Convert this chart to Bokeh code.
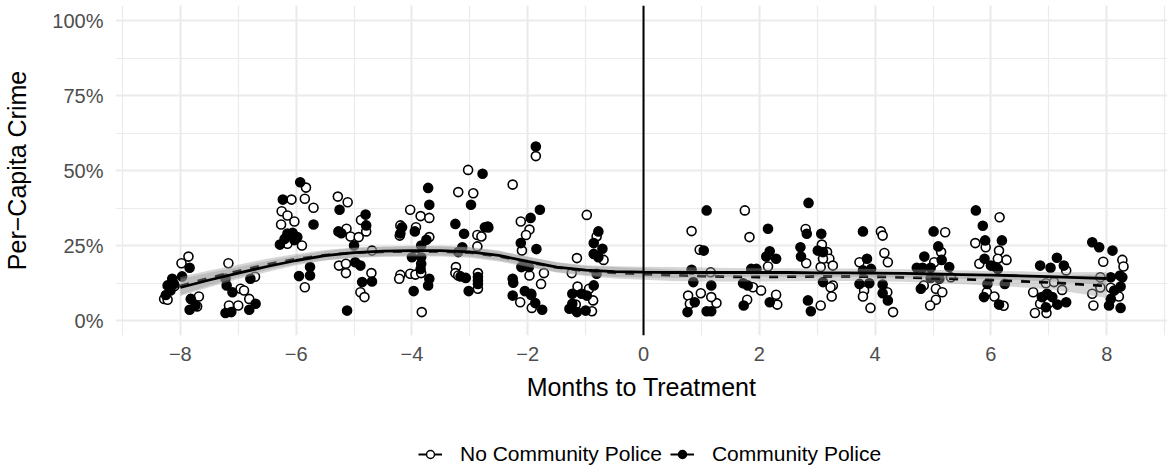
from bokeh.plotting import figure
from bokeh.layouts import column
from bokeh.models import (ColumnDataSource, FixedTicker, Span, Legend, LegendItem, Range1d)
from bokeh.embed import file_html
from bokeh.resources import INLINE

# ---------------- data ----------------
month_ticks = [-8, -6, -4, -2, 0, 2, 4, 6, 8]
month_labels = ["−8", "−6", "−4", "−2", "0", "2", "4", "6", "8"]
month_minor = [-9, -7, -5, -3, -1, 1, 3, 5, 7, 9]
pct_ticks = [0, 0.25, 0.5, 0.75, 1.0]
pct_labels = ["0%", "25%", "50%", "75%", "100%"]
pct_minor = [0.125, 0.375, 0.625, 0.875]

# No Community Police (open circles): jittered month, per-capita crime
nocp_x = [-7.86, -7.98, -8.28, -8.22, -7.68, -7.71, -8.10,
          -7.17, -6.71, -6.96, -6.90, -6.81, -7.00, -7.16,
          -5.83, -5.85, -6.08, -5.70, -6.25, -6.15, -6.26, -6.03, -6.15, -5.90, -5.85,
          -5.28, -5.11, -5.13, -5.06, -4.88, -4.92, -4.79, -4.69, -5.26, -5.14, -5.14, -4.70, -4.89, -4.82,
          -4.03, -3.85, -3.70, -4.20, -4.21, -3.93, -3.70, -4.20, -4.03, -3.94, -3.84, -4.22, -3.83,
          -3.03, -3.20, -2.94, -2.87, -2.80, -2.68, -2.87, -3.24, -3.25, -2.86, -2.86, -2.86, -3.20,
          -1.86, -2.26, -2.12, -1.97, -2.03, -2.10, -1.97, -1.72, -1.77, -1.94, -2.13, -1.93,
          -0.98, -0.81, -0.69, -1.15, -1.24, -1.14, -0.94, -0.87, -1.17, -0.89,
          0.83, 0.97, 1.16, 0.77, 0.99, 1.26, 0.80, 1.17,
          1.75, 1.83, 2.15, 1.89, 2.03, 2.29, 1.79, 2.31,
          2.80, 3.08, 3.17, 3.21, 3.10, 2.81, 3.06, 3.27, 3.27, 3.23, 3.25, 3.06,
          4.10, 4.13, 4.16, 3.73, 4.22, 3.81, 3.79, 4.21, 3.92, 4.31,
          5.21, 5.14, 5.02, 5.31, 4.84, 5.05, 5.16, 5.05, 4.95,
          6.15, 5.73, 5.91, 6.14, 6.12, 6.27, 5.80, 5.93, 6.06, 6.22,
          7.30, 6.95, 7.09, 7.23, 6.73, 6.85, 7.00, 6.76, 6.96,
          7.94, 8.27, 8.29, 7.89, 8.07, 8.21, 7.75, 7.77, 7.89]
nocp_y = [0.213, 0.191, 0.072, 0.069, 0.080, 0.047, 0.115,
          0.191, 0.146, 0.106, 0.100, 0.072, 0.050, 0.050,
          0.443, 0.406, 0.403, 0.376, 0.364, 0.350, 0.320, 0.330, 0.256, 0.250, 0.111,
          0.413, 0.394, 0.306, 0.280, 0.335, 0.278, 0.297, 0.233, 0.183, 0.189, 0.158, 0.158, 0.094, 0.078,
          0.369, 0.348, 0.342, 0.317, 0.283, 0.311, 0.278, 0.152, 0.156, 0.153, 0.158, 0.139, 0.028,
          0.502, 0.428, 0.424, 0.285, 0.280, 0.310, 0.247, 0.178, 0.158, 0.158, 0.133, 0.106, 0.150,
          0.548, 0.453, 0.330, 0.303, 0.285, 0.233, 0.150, 0.158, 0.122, 0.085, 0.061, 0.042,
          0.352, 0.280, 0.202, 0.208, 0.158, 0.113, 0.106, 0.067, 0.053, 0.031,
          0.298, 0.236, 0.161, 0.083, 0.091, 0.058, 0.056, 0.078,
          0.367, 0.278, 0.180, 0.111, 0.100, 0.086, 0.069, 0.053,
          0.305, 0.253, 0.228, 0.206, 0.206, 0.191, 0.178, 0.183, 0.117, 0.111, 0.080, 0.050,
          0.297, 0.283, 0.225, 0.194, 0.194, 0.100, 0.080, 0.094, 0.042, 0.028,
          0.294, 0.228, 0.194, 0.144, 0.117, 0.106, 0.094, 0.069, 0.050,
          0.344, 0.258, 0.244, 0.233, 0.206, 0.202, 0.189, 0.094, 0.080, 0.049,
          0.167, 0.124, 0.128, 0.102, 0.094, 0.056, 0.058, 0.025, 0.025,
          0.196, 0.202, 0.180, 0.144, 0.109, 0.080, 0.089, 0.050, 0.110]

# Community Police (filled circles)
cp_x = [-7.84, -8.14, -8.22, -8.17, -8.11, -7.82, -7.74, -7.84, -7.97, -8.25,
        -6.79, -7.20, -7.10, -6.70, -6.81, -7.22, -7.12, -7.22,
        -5.93, -6.23, -5.70, -6.15, -6.06, -5.98, -6.20, -6.03, -6.28, -5.76, -5.95, -5.76,
        -5.25, -5.27, -5.22, -4.80, -4.79, -5.00, -4.98, -4.89, -4.86, -4.69, -5.12,
        -3.72, -3.70, -4.17, -4.20, -3.95, -3.75, -3.84, -4.00, -3.84, -3.84, -3.85, -3.70, -3.72, -3.97,
        -2.78, -2.98, -3.25, -3.10, -2.74, -2.69, -3.13, -3.20, -3.16, -3.07, -2.86, -3.02, -2.86,
        -1.86, -1.79, -1.95, -2.12, -1.85, -2.11, -1.98, -2.26, -2.25, -2.05, -1.94, -2.26, -1.87, -1.75,
        -0.78, -0.86, -0.71, -0.86, -0.78, -0.81, -0.86, -1.23, -1.07, -0.98, -1.23, -1.28, -1.15, -1.00,
        1.09, 0.83, 0.86, 1.17, 0.885, 0.76, 1.09, 1.17, 1.04,
        2.15, 2.18, 2.12, 2.29, 1.86, 1.95, 1.72, 1.80, 1.73, 2.18,
        2.85, 3.07, 2.71, 3.01, 3.10, 2.72, 3.10, 2.84, 2.89, 2.82,
        3.79, 3.86, 3.93, 3.79, 3.73, 3.90, 4.13, 4.13, 4.22,
        5.01, 5.09, 4.85, 5.15, 4.72, 4.82, 4.96, 5.28, 4.96, 5.11, 4.79,
        5.74, 5.86, 5.90, 6.19, 5.89, 6.00, 6.08, 6.12, 6.24, 5.94, 5.88, 6.14,
        7.14, 7.26, 6.85, 7.03, 6.97, 6.88, 7.06, 7.15, 7.30, 6.95,
        7.75, 7.87, 8.10, 8.23, 8.27, 8.07, 8.24, 8.13, 8.07, 8.04, 8.24]
cp_y = [0.176, 0.139, 0.117, 0.100, 0.122, 0.072, 0.050, 0.036, 0.147, 0.085,
        0.139, 0.117, 0.094, 0.056, 0.036, 0.025, 0.028, 0.140,
        0.461, 0.403, 0.320, 0.290, 0.292, 0.278, 0.272, 0.268, 0.253, 0.178, 0.148, 0.150,
        0.369, 0.297, 0.291, 0.353, 0.317, 0.250, 0.194, 0.183, 0.128, 0.130, 0.033,
        0.442, 0.386, 0.311, 0.290, 0.297, 0.269, 0.250, 0.211, 0.211, 0.189, 0.172, 0.139, 0.117, 0.098,
        0.489, 0.386, 0.322, 0.289, 0.311, 0.313, 0.244, 0.228, 0.147, 0.142, 0.122, 0.098, 0.145,
        0.580, 0.369, 0.342, 0.258, 0.238, 0.178, 0.178, 0.139, 0.126, 0.098, 0.089, 0.083, 0.058, 0.036,
        0.297, 0.258, 0.239, 0.222, 0.211, 0.156, 0.117, 0.089, 0.089, 0.083, 0.056, 0.039, 0.028, 0.033,
        0.367, 0.169, 0.128, 0.117, 0.061, 0.028, 0.031, 0.031, 0.233,
        0.306, 0.231, 0.213, 0.206, 0.172, 0.172, 0.124, 0.117, 0.050, 0.061,
        0.392, 0.289, 0.244, 0.233, 0.228, 0.213, 0.128, 0.067, 0.031, 0.289,
        0.297, 0.206, 0.172, 0.167, 0.122, 0.124, 0.120, 0.091, 0.067,
        0.297, 0.247, 0.213, 0.202, 0.176, 0.176, 0.176, 0.178, 0.142, 0.139, 0.106,
        0.367, 0.316, 0.267, 0.267, 0.206, 0.183, 0.178, 0.172, 0.122, 0.122, 0.078, 0.053,
        0.209, 0.183, 0.183, 0.176, 0.089, 0.078, 0.078, 0.053, 0.061, 0.044,
        0.261, 0.244, 0.233, 0.150, 0.144, 0.144, 0.113, 0.100, 0.072, 0.050, 0.042]

# Loess smooths and their half-band widths
smooth_x = [-8, -7.5, -7, -6.5, -6, -5.5, -5, -4.5, -4, -3.5, -3, -2.5, -2, -1.5, -1, -0.5,
            0, 0.5, 1, 1.5, 2, 2.5, 3, 3.5, 4, 4.5, 5, 5.5, 6, 6.5, 7, 7.5, 8]
cp_fit = [0.110, 0.135, 0.158, 0.180, 0.200, 0.216, 0.226, 0.231, 0.233, 0.233, 0.229, 0.217,
          0.197, 0.178, 0.168, 0.163, 0.161, 0.160, 0.160, 0.160, 0.160, 0.160, 0.159, 0.159,
          0.158, 0.157, 0.155, 0.153, 0.151, 0.149, 0.146, 0.143, 0.140]
cp_band = [0.028, 0.024, 0.020, 0.018, 0.016, 0.016, 0.016, 0.016, 0.016, 0.016, 0.016, 0.016,
           0.016, 0.016, 0.016, 0.018, 0.018, 0.018, 0.017, 0.015, 0.014, 0.014, 0.014, 0.014,
           0.014, 0.014, 0.014, 0.014, 0.014, 0.015, 0.016, 0.018, 0.022]
nocp_fit = [0.115, 0.142, 0.165, 0.187, 0.205, 0.218, 0.226, 0.229, 0.230, 0.230, 0.226, 0.214,
            0.195, 0.177, 0.165, 0.159, 0.155, 0.151, 0.148, 0.146, 0.145, 0.146, 0.147, 0.147,
            0.146, 0.144, 0.141, 0.138, 0.135, 0.131, 0.127, 0.121, 0.115]
nocp_band = [0.030, 0.025, 0.021, 0.019, 0.017, 0.017, 0.017, 0.017, 0.017, 0.017, 0.017, 0.017,
             0.017, 0.017, 0.017, 0.019, 0.019, 0.019, 0.018, 0.016, 0.015, 0.015, 0.015, 0.015,
             0.015, 0.015, 0.016, 0.017, 0.018, 0.020, 0.023, 0.030, 0.040]

legend_labels = ["No Community Police", "Community Police"]

# ---------------- main figure ----------------
FONT = "Liberation Sans"
p = figure(width=1167, height=429, output_backend="svg", toolbar_location=None,
           x_range=Range1d(-9.12, 9.05), y_range=Range1d(-0.05, 1.05),
           min_border_left=113, min_border_right=0, min_border_top=5, min_border_bottom=94)
p.outline_line_color = None
p.background_fill_color = "white"
p.border_fill_color = "white"

xt = FixedTicker(ticks=month_ticks, minor_ticks=month_minor)
yt = FixedTicker(ticks=pct_ticks, minor_ticks=pct_minor)
p.xaxis.ticker = xt
p.yaxis.ticker = yt
p.xgrid.ticker = xt
p.ygrid.ticker = yt
p.xaxis.major_label_overrides = {t: s for t, s in zip(month_ticks, month_labels)}
p.yaxis.major_label_overrides = {t: s for t, s in zip(pct_ticks, pct_labels)}

for g in (p.xgrid, p.ygrid):
    g.grid_line_color = "#EBEBEB"
    g.grid_line_width = 2.2
    g.minor_grid_line_color = "#EBEBEB"
    g.minor_grid_line_width = 1.2

for ax in (p.xaxis, p.yaxis):
    ax.axis_line_color = None
    ax.major_tick_line_color = None
    ax.minor_tick_line_color = None
    ax.major_tick_out = 0
    ax.minor_tick_out = 0
    ax.major_tick_in = 0
    ax.minor_tick_in = 0
    ax.major_label_text_font = FONT
    ax.major_label_text_font_size = "20px"
    ax.major_label_text_color = "#4D4D4D"
    ax.axis_label_text_font = FONT
    ax.axis_label_text_font_size = "25px"
    ax.axis_label_text_font_style = "normal"
    ax.axis_label_text_color = "black"

p.xaxis.axis_label = "Months to Treatment"
p.yaxis.axis_label = "Per−Capita Crime"
p.xaxis.major_label_standoff = 11
p.xaxis.axis_label_standoff = 9
p.yaxis.major_label_standoff = 12
p.yaxis.axis_label_standoff = 18

# points
p.scatter(nocp_x, nocp_y, marker="circle", size=9, fill_color="white",
          line_color="black", line_width=1.6)
p.scatter(cp_x, cp_y, marker="circle", size=9, fill_color="black",
          line_color="black", line_width=1.6)

# smooths: ribbon + line per group
src_n = ColumnDataSource(dict(x=smooth_x, y=nocp_fit,
                              lo=[f - b for f, b in zip(nocp_fit, nocp_band)],
                              hi=[f + b for f, b in zip(nocp_fit, nocp_band)]))
src_c = ColumnDataSource(dict(x=smooth_x, y=cp_fit,
                              lo=[f - b for f, b in zip(cp_fit, cp_band)],
                              hi=[f + b for f, b in zip(cp_fit, cp_band)]))
p.varea(x="x", y1="lo", y2="hi", source=src_n, fill_color="#999999", fill_alpha=0.4)
p.line(x="x", y="y", source=src_n, line_color="black", line_width=2.8, line_dash="9 9")
p.varea(x="x", y1="lo", y2="hi", source=src_c, fill_color="#999999", fill_alpha=0.4)
p.line(x="x", y="y", source=src_c, line_color="black", line_width=2.8)

p.add_layout(Span(location=0, dimension="height", line_color="black", line_width=2))

# ---------------- legend strip ----------------
lg = figure(width=1167, height=40, output_backend="svg", toolbar_location=None,
            x_range=Range1d(0, 1), y_range=Range1d(0, 1),
            x_axis_location=None, y_axis_location=None,
            min_border_left=0, min_border_right=0, min_border_top=0, min_border_bottom=0)
lg.outline_line_color = None
lg.grid.visible = False
lg.border_fill_color = "white"
lg.background_fill_color = "white"

# legend key renderers: kept outside the visible range of the strip
off_x = [5, 6]
off_y = [5, 5]
l1 = lg.line(off_x, off_y, line_color="black", line_width=2)
s1 = lg.scatter(off_x[:1], off_y[:1], marker="circle", size=8, fill_color="white",
                line_color="black", line_width=1.5)
l2 = lg.line(off_x, off_y, line_color="black", line_width=2)
s2 = lg.scatter(off_x[:1], off_y[:1], marker="circle", size=8, fill_color="black",
                line_color="black", line_width=1.5)
legend = Legend(items=[LegendItem(label=legend_labels[0], renderers=[l1, s1]),
                       LegendItem(label=legend_labels[1], renderers=[l2, s2])],
                orientation="horizontal", location=(303, 3),
                glyph_width=24, glyph_height=20, label_height=22, label_standoff=18,
                spacing=8, padding=0, margin=0,
                border_line_color=None, background_fill_alpha=0,
                label_text_font=FONT, label_text_font_size="21px", label_text_color="black")
lg.add_layout(legend, "center")

layout = column(p, lg, spacing=0)
open("out.html", "w").write(file_html(layout, INLINE))
